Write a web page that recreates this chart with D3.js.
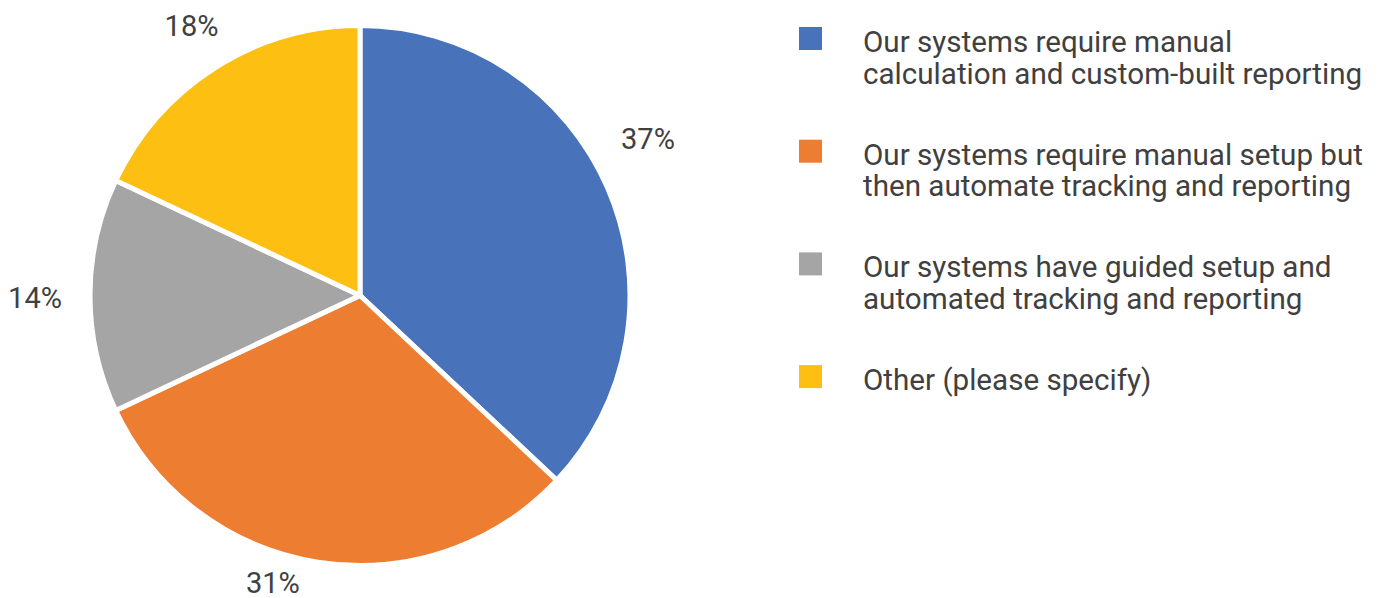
<!DOCTYPE html>
<html>
<head>
<meta charset="utf-8">
<script src="https://cdn.jsdelivr.net/npm/d3@7"></script>
<style>
  html, body { margin: 0; padding: 0; background: #fff; }
  svg { display: block; }
  text { font-family: Roboto, "Noto Sans", sans-serif; fill: #404040; }
</style>
</head>
<body>
<svg id="chart" width="1384" height="598"></svg>
<script>
// Survey answers and their shares (percent)
const categories = [
  ["Our systems require manual", "calculation and custom-built reporting"],
  ["Our systems require manual setup but", "then automate tracking and reporting"],
  ["Our systems have guided setup and", "automated tracking and reporting"],
  ["Other (please specify)"]
];
const shares = [37, 31, 14, 18];
const colors = ["#4872B9", "#ED7D31", "#A5A5A5", "#FCBF12"];

// Label placement tweaks (degrees added to slice mid-angle, radial distance)
const labelNudge = [-5.2, 7.9, -0.5, 0.4];
const labelDist = [328, 300, 325, 318];

const svg = d3.select("#chart");
const cx = 360, cy = 295.5, radius = 270;

const pie = d3.pie().sort(null).value(d => d)(shares);
const arc = d3.arc().innerRadius(0).outerRadius(radius);

const g = svg.append("g").attr("transform", `translate(${cx},${cy})`);

g.selectAll("path.slice")
  .data(pie)
  .join("path")
  .attr("class", "slice")
  .attr("d", arc)
  .attr("fill", (d, i) => colors[i])
  .attr("stroke", "#fff")
  .attr("stroke-width", 5)
  .attr("stroke-linejoin", "round");

// Percentage labels outside the pie
const labelPos = (d, i) => {
  const a = (d.startAngle + d.endAngle) / 2 + labelNudge[i] * Math.PI / 180;
  return [Math.sin(a) * labelDist[i], -Math.cos(a) * labelDist[i]];
};

g.selectAll("text.pct")
  .data(pie)
  .join("text")
  .attr("class", "pct")
  .attr("x", (d, i) => labelPos(d, i)[0])
  .attr("y", (d, i) => labelPos(d, i)[1])
  .attr("text-anchor", "middle")
  .attr("dominant-baseline", "central")
  .style("font-size", "29px")
  .text(d => d.data + "%");

// Legend
const legend = svg.append("g").attr("transform", "translate(799,27)");
const rowStep = 112.7;
const items = legend.selectAll("g.item")
  .data(categories)
  .join("g")
  .attr("class", "item")
  .attr("transform", (d, i) => `translate(0,${i * rowStep})`);

items.append("rect")
  .attr("width", 23)
  .attr("height", 23)
  .attr("fill", (d, i) => colors[i]);

items.append("text")
  .attr("x", 64)
  .attr("y", 25)
  .style("font-size", "29.6px")
  .selectAll("tspan")
  .data(d => d)
  .join("tspan")
  .attr("x", 64)
  .attr("dy", (d, j) => j === 0 ? 0 : 31.5)
  .text(d => d);
</script>
</body>
</html>
